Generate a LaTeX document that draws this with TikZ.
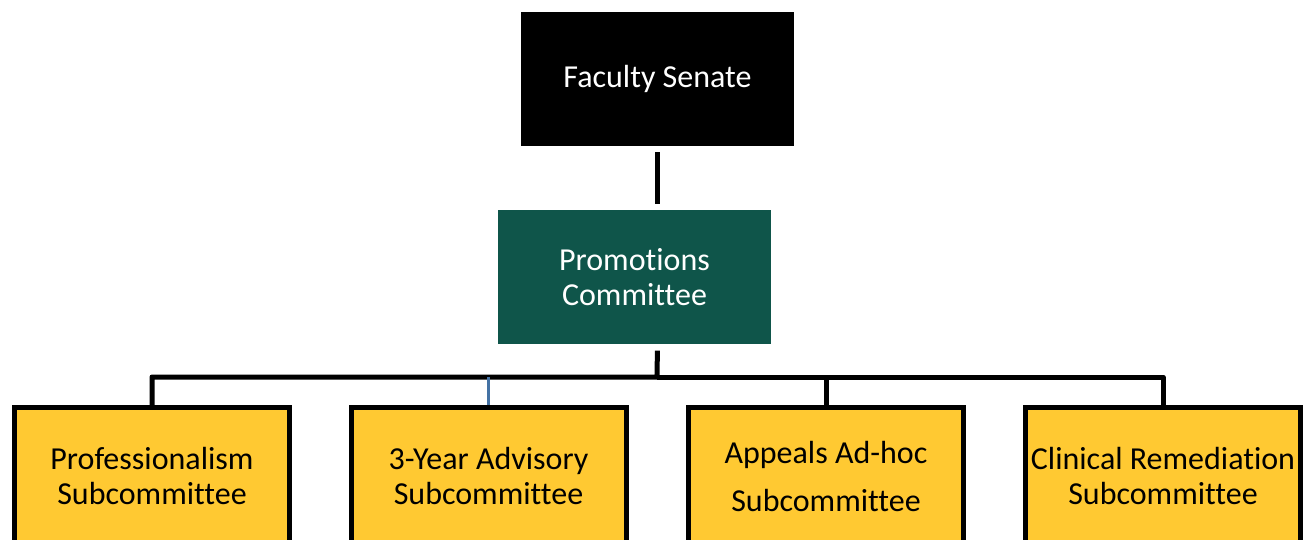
\documentclass[tikz,border=0pt]{standalone}
\usepackage{fontspec}
\setmainfont{Carlito}[Ligatures=NoCommon]
\usetikzlibrary{positioning}

\definecolor{promogreen}{RGB}{15,85,74}
\definecolor{subyellow}{RGB}{255,201,50}
\definecolor{linkblue}{RGB}{68,114,164}

\begin{document}
\begin{tikzpicture}[x=1pt, y=-1pt,
    boxfont/.style={font=\fontsize{32}{35}\selectfont},
    senatebox/.style={rectangle, fill=black, text=white, boxfont, align=center, minimum width=273pt, minimum height=134pt},
    promobox/.style={rectangle, fill=promogreen, text=white, boxfont, align=center, minimum width=273pt, minimum height=134pt},
    subbox/.style={rectangle, draw=black, line width=5pt, fill=subyellow, boxfont, align=center, minimum width=275pt, minimum height=137pt, inner sep=2pt},
    conn/.style={draw=black, line width=5pt, line join=round},
    bluelink/.style={draw=linkblue, line width=3.5pt}]
    \path[use as bounding box, clip] (0,0) rectangle (1303,539);

    % Faculty Senate
    \node [senatebox] (senate) at (657.5,79) {Faculty Senate};

    % Promotions Committee
    \node [promobox, below=64pt of senate, xshift=-23pt] (promo) {Promotions\\Committee};

    % Subcommittees
    \node [subbox] (prof) at (152,476) {Professionalism\\Subcommittee};
    \node [subbox] (advisory) at (488.5,476) {3-Year Advisory\\Subcommittee};
    \node [subbox] (appeals) at (826,476) {Appeals Ad-hoc\\[13pt]Subcommittee};
    \node [subbox] (clinical) at (1163,476) {Clinical Remediation\\Subcommittee};

    % bus line under the committee
    \coordinate (bus) at (657,377);

    % Connectors
    \draw [conn, shorten <=6pt, shorten >=6pt] (senate.south) -- (senate.south |- promo.north);
    \draw [conn, shorten <=6pt] (senate.south |- promo.south) -- (bus) -| (prof.north);
    \draw [conn] (bus) -| (appeals.north);
    \draw [conn] (bus) -| (clinical.north);
    \draw [bluelink] (bus -| advisory.north) -- (advisory.north);
\end{tikzpicture}
\end{document}
